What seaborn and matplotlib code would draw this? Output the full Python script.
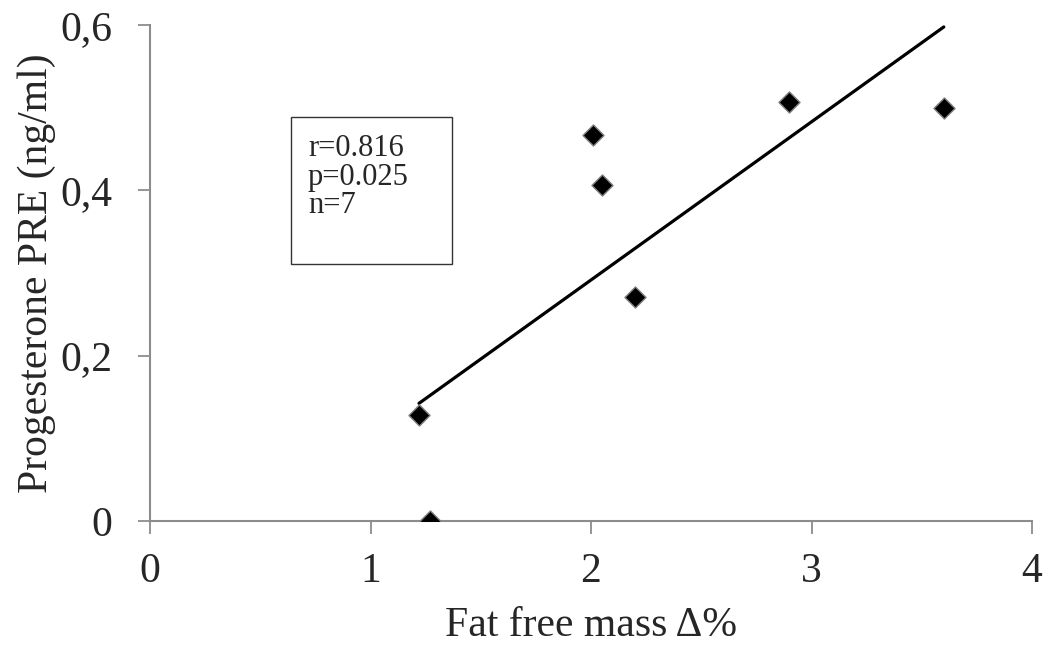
import matplotlib
matplotlib.use("Agg")
import matplotlib.pyplot as plt
import seaborn as sns
import pandas as pd
from matplotlib.patches import Rectangle

# Data
fat_free_mass_delta = [1.22, 1.27, 2.01, 2.05, 2.20, 2.90, 3.60]
progesterone_pre = [0.128, 0.0, 0.467, 0.407, 0.271, 0.507, 0.500]
xticks = [0, 1, 2, 3, 4]
yticks = [0, 0.2, 0.4, 0.6]
ytick_labels = ["0", "0,2", "0,4", "0,6"]
stats_lines = ["r=0.816", "p=0.025", "n=7"]

df = pd.DataFrame({"x": fat_free_mass_delta, "y": progesterone_pre})

sns.set_style("white")
plt.rcParams["font.family"] = ["Liberation Serif", "DejaVu Serif"]

fig = plt.figure(figsize=(10.51, 6.48), dpi=100)
W, H = 1051, 648
ax = fig.add_axes([150 / W, 1 - 521 / H, (1032 - 150) / W, (521 - 25) / H])

sns.regplot(data=df, x="x", y="y", ci=None, ax=ax, truncate=True,
            marker="D",
            scatter_kws=dict(s=115, color="black", edgecolors="#808080", linewidths=1.0, zorder=3,
                             alpha=1),
            line_kws=dict(color="black", lw=2.3, zorder=2))

ax.set_xlim(0, 4)
ax.set_ylim(0, 0.6)
ax.set_xticks(xticks)
ax.set_xticklabels([str(t) for t in xticks])
ax.set_yticks(yticks)
ax.set_yticklabels(ytick_labels)

for side in ["top", "right"]:
    ax.spines[side].set_visible(False)
for side in ["left", "bottom"]:
    ax.spines[side].set_color("#8c8c8c")
    ax.spines[side].set_linewidth(1.5)
    ax.spines[side].set_zorder(1)

ax.tick_params(axis="both", which="major", direction="out", length=9, width=1.3,
               color="#8c8c8c", labelsize=30, bottom=True, left=True)
ax.tick_params(axis="x", pad=14)
ax.tick_params(axis="y", pad=18)

ax.set_xlabel("Fat free mass Δ%", fontsize=30, labelpad=11)
ax.set_ylabel("Progesterone PRE (ng/ml)", fontsize=30, labelpad=3)

# Stats box
ax.add_patch(Rectangle((141 / 882, (521 - 264) / 496), 161 / 882, 147 / 496,
                       transform=ax.transAxes, fill=False, edgecolor="#333333", lw=1.0,
                       clip_on=False))
for i, line in enumerate(stats_lines):
    ax.text(158 / 882, (521 - (156 + 28.5 * i)) / 496, line, transform=ax.transAxes,
            fontsize=22, va="baseline", ha="left")

fig.savefig("out.png", dpi=100)
